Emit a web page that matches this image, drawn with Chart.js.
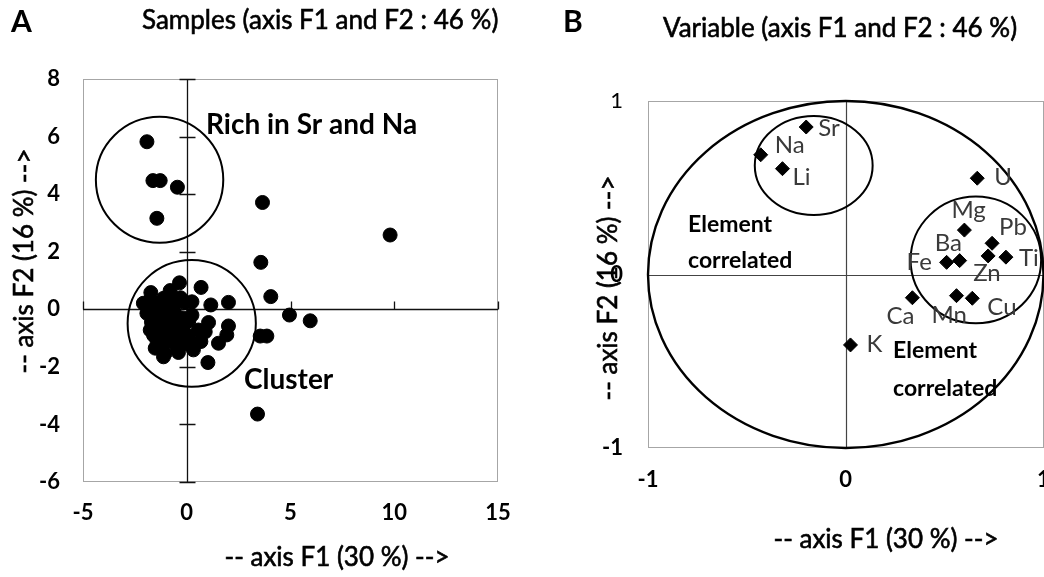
<!DOCTYPE html>
<html>
<head>
<meta charset="utf-8">
<script src="https://cdn.jsdelivr.net/npm/chart.js@4.4.1/dist/chart.umd.min.js"></script>
<style>
  html, body { margin: 0; padding: 0; background: #fff; overflow: hidden; width: 1044px; height: 577px; }
  .panel { position: absolute; top: 0; }
  #panelA { left: 0; width: 530px; height: 577px; }
  #panelB { left: 530px; width: 540px; height: 577px; }
</style>
</head>
<body>
<div class="panel" id="panelA"><canvas id="chartA" width="530" height="577"></canvas></div>
<div class="panel" id="panelB"><canvas id="chartB" width="540" height="577"></canvas></div>
<script>
// ---- Panel A: sample scores on F1 / F2 ----
const sampleF1 = [
  -1.92, -1.63, -1.28, -0.45, -1.44, 3.65, 9.80, 3.57, 4.05, 4.95, 5.95, 3.54, 3.86, 1.02, 3.41,
  -0.35, 0.69, 2.01, 1.16, 0.25, -0.08, -1.73, -2.09, -0.80, -1.12, 1.05, 2.01, 1.93, 1.53, 0.68,
  -1.04, -1.52, -1.76, -1.92, -1.52, -0.48, 0.16, 0.25, -0.16, -0.96, -0.64, -1.20, -0.72, -0.32,
  -1.44, 0.56, 0.89, -0.48, -1.28, -1.00, -0.60, -1.30, 0.00, -1.12, 0.32,
  -1.60, -1.40, -1.00, -0.80, -1.30, -0.90, -0.50, -0.20, -1.60, -0.30, -1.10, -0.70, 0.10, -0.10,
  -1.80, -0.40, -1.70, -1.20, -0.60, -0.90, -1.45, -0.25
];
const sampleF2 = [
  5.82, 4.47, 4.47, 4.24, 3.16, 3.71, 2.58, 1.63, 0.44, -0.20, -0.40, -0.93, -0.93, -1.85, -3.64,
  0.92, 0.76, 0.24, 0.15, 0.26, 0.23, 0.58, 0.21, 0.65, 0.38, -0.46, -0.58, -0.89, -1.18, -1.12,
  -1.53, -1.35, -0.72, -0.14, -0.37, -1.30, -1.07, -0.20, -0.60, -0.14, 0.09, -0.89, -0.72, -0.95,
  -1.07, -0.72, -0.78, -0.37, 0.09, -0.50, -1.00, -0.40, -0.90, -1.65, -1.41,
  -0.10, 0.20, 0.10, -0.30, -0.70, -1.10, -0.60, -0.30, -0.90, 0.40, -0.30, 0.30, -0.40, -1.20,
  0.30, -1.50, -0.45, -1.30, -0.10, -0.50, -0.20, -0.75
];
const sampleTicksX = [-5, 0, 5, 10, 15];
const sampleTicksY = [-6, -4, -2, 0, 2, 4, 6, 8];
// groups circled on the score plot: [centre F1, centre F2, half-width, half-height]
const sampleGroups = [
  [-1.31, 4.50, 3.07, 2.19],
  [0.24, -0.49, 3.09, 2.20]
];

// ---- Panel B: variable loadings on F1 / F2 ----
const elements = ['Sr', 'Na', 'Li', 'U', 'Mg', 'Pb', 'Ti', 'Zn', 'Fe', 'Ba', 'Ca', 'Mn', 'Cu', 'K'];
const loadF1 = [-0.20, -0.43, -0.32, 0.665, 0.60, 0.74, 0.81, 0.72, 0.51, 0.576, 0.337, 0.56, 0.64, 0.024];
const loadF2 = [0.85, 0.69, 0.61, 0.555, 0.256, 0.18, 0.10, 0.107, 0.07, 0.08, -0.134, -0.122, -0.137, -0.406];
const loadTicks = [-1, 0, 1];
const loadGroups = [
  [0, 0, 1, 1],
  [-0.162, 0.628, 0.298, 0.285],
  [0.658, 0.084, 0.330, 0.365]
];

// label placement next to each diamond (px offset of text start / baseline)
const labelOffset = {
  Sr: [12, 9], Na: [14, -2], Li: [10, 16], U: [17, 7], Mg: [-13, -12], Pb: [7, -8], Ti: [13, 9],
  Zn: [-15, 25], Fe: [-40, 8], Ba: [-25, -10], Ca: [-26, 26], Mn: [-25, 27], Cu: [15, 17], K: [16, 7]
};

const FONT = 'Lato, "Open Sans", sans-serif';

function ellipse(ctx, chart, g, width) {
  const sx = chart.scales.x, sy = chart.scales.y;
  const cx = sx.getPixelForValue(g[0]);
  const cy = sy.getPixelForValue(g[1]);
  const rx = Math.abs(sx.getPixelForValue(g[0] + g[2]) - cx);
  const ry = Math.abs(sy.getPixelForValue(g[1] + g[3]) - cy);
  ctx.save();
  ctx.lineWidth = width;
  ctx.strokeStyle = '#000';
  ctx.beginPath();
  ctx.ellipse(cx, cy, rx, ry, 0, 0, Math.PI * 2);
  ctx.stroke();
  ctx.restore();
}

function frame(ctx, chart, color) {
  const a = chart.chartArea;
  ctx.save();
  ctx.strokeStyle = color;
  ctx.lineWidth = 1;
  ctx.strokeRect(Math.round(a.left) + 0.5, Math.round(a.top) + 0.5,
                 Math.round(a.right - a.left) - 1, Math.round(a.bottom - a.top) - 1);
  ctx.restore();
}

// regular-weight text gets a hairline outline so it reads a little heavier
function text(ctx, str, x, y, font, color, align, outline) {
  ctx.save();
  ctx.font = font;
  ctx.fillStyle = color || '#000';
  ctx.textAlign = align || 'left';
  ctx.textBaseline = 'alphabetic';
  ctx.fillText(str, x, y);
  if (outline) {
    ctx.strokeStyle = color || '#000';
    ctx.lineWidth = outline;
    ctx.strokeText(str, x, y);
  }
  ctx.restore();
}

function vtext(ctx, str, x, y, font, color, outline) {
  ctx.save();
  ctx.translate(x, y);
  ctx.rotate(-Math.PI / 2);
  text(ctx, str, 0, 0, font, color, 'center', outline);
  ctx.restore();
}

function linearAxis(min, max, ticks, opts) {
  return Object.assign({
    type: 'linear', min: min, max: max,
    afterBuildTicks: s => { s.ticks = ticks.map(v => ({ value: v })); },
    grid: { display: false, drawTicks: false },
    border: { display: false },
    ticks: { color: '#000', font: { family: FONT, weight: 'bold', size: 22 }, maxRotation: 0, autoSkip: false }
  }, opts);
}

// score plot decorations: frame, zero axes with tick marks, group circles, texts
const scoreDecor = {
  id: 'scoreDecor',
  beforeDatasetsDraw(chart) {
    const ctx = chart.ctx, sx = chart.scales.x, sy = chart.scales.y, a = chart.chartArea;
    frame(ctx, chart, '#a6a6a6');
    const x0 = Math.round(sx.getPixelForValue(0)) + 0.5;
    const y0 = Math.round(sy.getPixelForValue(0)) + 0.5;
    ctx.save();
    ctx.strokeStyle = '#111';
    ctx.lineWidth = 1.3;
    ctx.beginPath();
    ctx.moveTo(x0, a.top); ctx.lineTo(x0, a.bottom);
    ctx.moveTo(a.left, y0); ctx.lineTo(a.right, y0);
    sampleTicksY.forEach(v => {
      const p = Math.round(sy.getPixelForValue(v)) + 0.5;
      ctx.moveTo(x0 - 8, p); ctx.lineTo(x0 + 8, p);
    });
    sampleTicksX.forEach(v => {
      const p = Math.round(sx.getPixelForValue(v)) + 0.5;
      ctx.moveTo(p, y0); ctx.lineTo(p, y0 - 8);
    });
    ctx.stroke();
    ctx.restore();
    sampleGroups.forEach(g => ellipse(ctx, chart, g, 2));
  },
  afterDraw(chart) {
    const ctx = chart.ctx;
    text(ctx, 'A', 11, 32, 'bold 30px ' + FONT);
    text(ctx, 'Samples (axis F1 and F2 : 46 %)', 142, 29, '26px ' + FONT, '#000', 'left', 0.6);
    vtext(ctx, '-- axis F2 (16 %) -->', 33, 261, '26px ' + FONT, '#000', 0.6);
    text(ctx, '-- axis F1 (30 %) -->', 337, 566, '26px ' + FONT, '#000', 'center', 0.6);
    text(ctx, 'Rich in Sr and Na', 206, 134, 'bold 28px ' + FONT);
    text(ctx, 'Cluster', 244, 389, 'bold 28px ' + FONT);
  }
};

// loading plot decorations: frame, zero axes, correlation circles, labels
const loadDecor = {
  id: 'loadDecor',
  beforeDatasetsDraw(chart) {
    const ctx = chart.ctx, sx = chart.scales.x, sy = chart.scales.y, a = chart.chartArea;
    frame(ctx, chart, '#a6a6a6');
    const x0 = Math.round(sx.getPixelForValue(0)) + 0.5;
    const y0 = Math.round(sy.getPixelForValue(0)) + 0.5;
    ctx.save();
    ctx.strokeStyle = '#444';
    ctx.lineWidth = 1.2;
    ctx.beginPath();
    ctx.moveTo(x0, a.top); ctx.lineTo(x0, a.bottom);
    ctx.moveTo(a.left, y0); ctx.lineTo(a.right, y0);
    ctx.stroke();
    ctx.restore();
    loadGroups.forEach((g, i) => ellipse(ctx, chart, g, i === 0 ? 2.4 : 2));
  },
  afterDraw(chart) {
    const ctx = chart.ctx;
    const meta = chart.getDatasetMeta(0);
    meta.data.forEach((pt, i) => {
      const off = labelOffset[elements[i]];
      text(ctx, elements[i], pt.x + off[0], pt.y + off[1], '24px ' + FONT, '#3a3a3a');
    });
    text(ctx, 'B', 33, 32, 'bold 30px ' + FONT);
    text(ctx, 'Variable (axis F1 and F2 : 46 %)', 133, 37, '26px ' + FONT, '#000', 'left', 0.6);
    vtext(ctx, '-- axis F2 (16 %) -->', 87, 288, '26px ' + FONT, '#000', 0.6);
    text(ctx, '-- axis F1 (30 %) -->', 356, 548, '26px ' + FONT, '#000', 'center', 0.6);
    text(ctx, 'Element', 158, 232, 'bold 23px ' + FONT);
    text(ctx, 'correlated', 158, 268, 'bold 23px ' + FONT);
    text(ctx, 'Element', 363, 358, 'bold 23px ' + FONT);
    text(ctx, 'correlated', 363, 396, 'bold 23px ' + FONT);
  }
};

const baseOptions = {
  responsive: false,
  animation: false,
  events: [],
  plugins: { legend: { display: false }, tooltip: { enabled: false } }
};

new Chart(document.getElementById('chartA'), {
  type: 'scatter',
  data: {
    datasets: [{
      data: sampleF1.map((v, i) => ({ x: v, y: sampleF2[i] })),
      pointStyle: 'circle',
      pointRadius: 7,
      pointBorderWidth: 1,
      backgroundColor: '#000',
      borderColor: '#000',
      showLine: false
    }]
  },
  options: Object.assign({}, baseOptions, {
    layout: { padding: { top: 79, right: 32, bottom: 0, left: 0 } },
    scales: {
      x: linearAxis(-5, 15, sampleTicksX, {
        afterFit: s => { s.height = 95; s.paddingLeft = 0; s.paddingRight = 0; }
      }),
      y: linearAxis(-6, 8, sampleTicksY, {
        afterFit: s => { s.width = 83; s.paddingTop = 0; s.paddingBottom = 0; }
      })
    }
  }),
  plugins: [scoreDecor]
});
const chartA = Chart.getChart('chartA');
chartA.options.scales.x.ticks.padding = 18;
chartA.options.scales.y.ticks.padding = 23;
chartA.update();

new Chart(document.getElementById('chartB'), {
  type: 'scatter',
  data: {
    datasets: [{
      data: loadF1.map((v, i) => ({ x: v, y: loadF2[i] })),
      pointStyle: 'rectRot',
      pointRadius: 7,
      pointBorderWidth: 1,
      backgroundColor: '#000',
      borderColor: '#000',
      showLine: false
    }]
  },
  options: Object.assign({}, baseOptions, {
    layout: { padding: { top: 101, right: 26.5, bottom: 0, left: 0 } },
    scales: {
      x: linearAxis(-1, 1, loadTicks, {
        afterFit: s => { s.height = 129; s.paddingLeft = 0; s.paddingRight = 0; }
      }),
      y: linearAxis(-1, 1, loadTicks, {
        afterFit: s => { s.width = 118; s.paddingTop = 0; s.paddingBottom = 0; }
      })
    }
  }),
  plugins: [loadDecor]
});
const chartB = Chart.getChart('chartB');
chartB.options.scales.x.ticks.padding = 19;
chartB.options.scales.y.ticks.padding = 25;
chartB.options.scales.y.ticks.font = c => ({ family: FONT, weight: c.tick && c.tick.value === 1 ? 'normal' : 'bold', size: 22 });
chartB.update();
</script>
</body>
</html>
